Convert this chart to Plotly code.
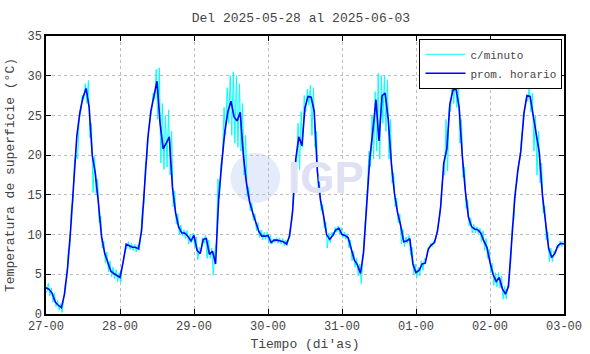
import plotly.graph_objects as go
import pandas as pd

# ---- data ----
start = "2025-05-27 00:00"
end = "2025-06-03 00:00"

# hourly averages, one per hour from 27-00 to 03-00 (169 values)
prom_horario = [
    3.3, 3.1, 2.6, 1.5, 1.1, 0.8, 2.5, 5.8, 10.7, 17.0, 22.4, 25.4, 27.3, 28.4, 26.0, 20.0, 17.7, 14.0, 9.8, 7.7, 6.5, 5.4, 5.1, 4.8,
    4.6, 6.5, 8.8, 8.6, 8.4, 8.4, 8.2, 10.5, 16.5, 22.0, 25.5, 27.5, 29.3, 24.0, 20.8, 21.5, 22.3, 16.0, 12.8, 11.0, 10.2, 10.2, 9.8, 9.2,
    9.9, 8.0, 7.6, 9.4, 9.5, 7.5, 7.9, 6.3, 14.5, 19.0, 23.0, 25.5, 26.8, 24.8, 24.3, 25.4, 20.0, 16.5, 14.2, 12.8, 11.6, 10.4, 9.8, 9.8,
    9.9, 9.0, 9.3, 9.3, 9.2, 9.1, 8.8, 9.8, 13.0, 19.5, 22.3, 21.2, 26.0, 27.4, 27.3, 25.5, 18.0, 14.4, 12.4, 10.0, 9.4, 9.9, 10.6, 10.8,
    10.0, 9.9, 9.6, 8.0, 6.8, 6.2, 5.1, 7.8, 14.0, 19.5, 23.0, 27.0, 21.8, 27.5, 27.8, 24.5, 19.0, 15.2, 12.8, 11.2, 9.1, 9.2, 9.5, 6.3,
    5.2, 5.5, 6.3, 6.4, 8.2, 8.7, 9.0, 10.5, 13.5, 19.0, 20.8, 26.5, 28.2, 28.3, 26.0, 20.0, 15.5, 12.2, 11.0, 10.7, 10.6, 10.2, 9.2, 8.4,
    6.5, 5.0, 4.1, 4.6, 3.2, 2.5, 3.5, 8.5, 14.5, 18.0, 20.5, 25.3, 27.5, 27.4, 25.0, 22.4, 20.3, 15.0, 11.3, 8.3, 7.1, 7.6, 8.6, 8.9,
    8.8,
]

# per-minute readings: lowest and highest values seen within each hour (168 hours)
minuto_bajo = [
    2.7, 2.3, 1.5, 0.9, 0.5, 0.2, 3.8, 8.0, 13.6, 19.4, 19.5, 25.3, 27.0, 26.5, 22.2, 15.3, 15.2, 11.5, 8.3, 6.4, 5.3, 4.7, 4.4, 4.1,
    4.0, 7.2, 8.3, 8.1, 8.0, 7.8, 8.0, 13.2, 19.0, 23.2, 25.5, 27.0, 24.5, 19.0, 18.2, 18.5, 17.5, 13.5, 11.3, 10.0, 9.8, 9.5, 8.8, 9.0,
    8.4, 6.8, 7.8, 8.9, 7.0, 7.0, 4.9, 9.0, 14.5, 20.0, 22.5, 24.0, 22.5, 21.5, 21.0, 20.5, 17.5, 14.8, 13.0, 11.8, 10.5, 9.6, 9.3, 9.4,
    8.9, 8.8, 9.0, 8.9, 8.8, 8.6, 8.6, 11.0, 15.5, 18.0, 18.2, 21.0, 25.5, 26.3, 22.5, 21.0, 15.8, 13.0, 10.8, 8.3, 9.0, 9.8, 10.3, 10.0,
    9.6, 9.4, 8.3, 6.7, 5.9, 4.8, 3.8, 10.0, 16.0, 18.5, 19.5, 20.5, 19.5, 24.0, 23.0, 19.5, 16.5, 13.5, 11.5, 8.8, 8.5, 8.9, 7.4, 5.0,
    4.6, 4.8, 5.5, 6.8, 8.1, 8.5, 9.3, 11.6, 15.5, 17.5, 18.0, 25.5, 26.5, 26.0, 21.5, 17.2, 13.3, 11.1, 10.2, 10.2, 10.0, 9.1, 8.0, 7.0,
    5.2, 3.6, 3.4, 3.3, 1.9, 1.9, 5.5, 11.2, 15.9, 18.9, 22.5, 25.8, 26.8, 25.4, 20.5, 17.5, 16.5, 12.7, 9.3, 6.6, 6.6, 7.6, 8.3, 8.5,
]
minuto_alto = [
    3.9, 3.3, 2.6, 1.7, 1.3, 1.9, 4.5, 8.5, 14.1, 20.0, 24.6, 27.5, 29.0, 29.4, 24.0, 19.8, 17.0, 12.3, 9.2, 7.8, 6.7, 5.9, 5.6, 5.2,
    6.0, 8.0, 9.1, 8.9, 8.8, 8.7, 9.8, 13.8, 19.5, 24.3, 27.8, 30.8, 31.0, 26.5, 25.0, 25.7, 23.0, 15.5, 12.6, 11.2, 10.6, 10.5, 10.0, 10.2,
    9.7, 8.4, 9.6, 9.9, 9.3, 8.3, 8.0, 17.0, 19.0, 26.0, 28.5, 30.0, 30.5, 30.0, 29.0, 26.5, 22.5, 16.0, 14.0, 12.6, 11.5, 10.6, 10.3, 10.3,
    9.9, 9.5, 9.6, 9.6, 9.5, 9.3, 9.8, 11.8, 17.5, 24.0, 25.5, 27.5, 28.3, 28.8, 28.5, 23.0, 16.6, 13.8, 11.6, 10.2, 10.3, 10.9, 11.1, 10.9,
    10.3, 10.1, 9.3, 7.9, 7.0, 6.3, 6.9, 12.0, 20.5, 25.0, 28.0, 30.3, 30.0, 30.0, 29.5, 24.5, 17.8, 14.6, 12.6, 10.7, 9.7, 9.9, 8.4, 6.3,
    5.9, 6.7, 7.0, 7.8, 8.9, 9.2, 10.2, 12.4, 17.5, 24.5, 26.0, 30.0, 30.5, 29.5, 24.5, 18.5, 14.4, 12.1, 11.3, 11.0, 10.8, 10.5, 9.5, 8.2,
    6.4, 5.2, 5.2, 4.8, 3.5, 3.5, 6.5, 11.8, 16.6, 19.6, 23.5, 27.2, 28.8, 27.8, 25.0, 23.0, 19.0, 13.6, 10.3, 8.3, 7.9, 8.6, 9.2, 9.2,
]

y_ticks = [0, 5, 10, 15, 20, 25, 30, 35]
titulo = "Del 2025-05-28 al 2025-06-03"
etiqueta_x = "Tiempo (di'as)"
etiqueta_y = "Temperatura de superficie (°C)"

# ---- build time axes ----
t0 = pd.Timestamp(start)
t_hora = [t0 + pd.Timedelta(hours=h) for h in range(len(prom_horario))]
t_min, v_min = [], []
for h in range(len(minuto_bajo)):
    t_min.append(t0 + pd.Timedelta(minutes=60 * h + 15))
    v_min.append(minuto_bajo[h])
    t_min.append(t0 + pd.Timedelta(minutes=60 * h + 45))
    v_min.append(minuto_alto[h])

MONO = "Liberation Mono, Courier New, monospace"
GRAY = "#444444"

fig = go.Figure()
fig.add_trace(go.Scatter(x=t_min, y=v_min, mode="lines", name="c/minuto",
                         line=dict(color="#00ffff", width=1)))
fig.add_trace(go.Scatter(x=t_hora, y=prom_horario, mode="lines", name="prom. horario",
                         line=dict(color="#0000ff", width=1.6)))

# watermark (IGP logo)
fig.add_shape(type="circle", xref="paper", yref="paper", x0=0.356, x1=0.452, y0=0.40, y1=0.58,
              fillcolor="#e4ecfb", line=dict(width=0), layer="below")
fig.add_annotation(text="<b>IGP</b>", xref="paper", yref="paper", x=0.54, y=0.49,
                   showarrow=False, font=dict(family="Liberation Sans, Arial", size=44, color="#e0e0f4"))

axis_common = dict(showline=True, linecolor="black", linewidth=1.5, mirror="ticks",
                   ticks="inside", ticklen=5, tickcolor="black",
                   showgrid=True, gridcolor="#bcbcbc", griddash="dot", gridwidth=1,
                   zeroline=False, automargin=False,
                   tickfont=dict(family=MONO, size=12, color=GRAY))

fig.update_layout(
    width=590, height=354,
    margin=dict(l=46, r=26, t=36, b=40),
    paper_bgcolor="white", plot_bgcolor="white",
    title=dict(text=titulo, x=0.51, xanchor="center", y=0.95, yanchor="middle",
               font=dict(family=MONO, size=13, color=GRAY)),
    xaxis=dict(type="date", range=[start, end], dtick=86400000, tick0=start,
               tickformat="%d-%H",
               title=dict(text=etiqueta_x, font=dict(family=MONO, size=13, color=GRAY), standoff=6),
               **axis_common),
    yaxis=dict(range=[0, 35], tickvals=y_ticks,
               title=dict(text=etiqueta_y, font=dict(family=MONO, size=13, color=GRAY), standoff=10),
               **axis_common),
    legend=dict(x=0.997, xanchor="right", y=0.99, yanchor="top",
                bgcolor="white", bordercolor="black", borderwidth=1,
                font=dict(family=MONO, size=11, color=GRAY),
                tracegroupgap=0, itemwidth=40),
    showlegend=True,
)

fig.write_html("out.html", config={"displayModeBar": False},
               post_script="document.body.style.margin='0px';")
